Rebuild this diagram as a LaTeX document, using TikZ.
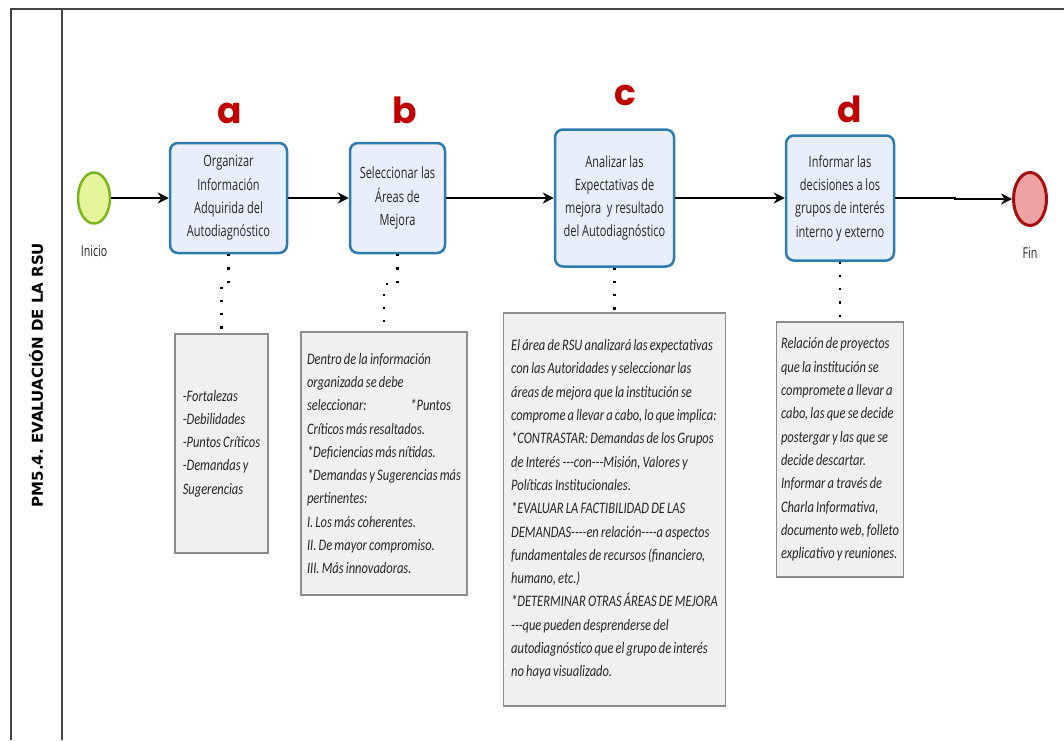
\documentclass[tikz,border=0pt]{standalone}
\usepackage{fontspec}
\setmainfont{Carlito}
\newfontfamily\taskfont[FakeStretch=0.71]{Open Sans}
\newfontfamily\notefont[FakeStretch=0.78,WordSpace=0.78]{Carlito}
\newfontfamily\lanefont{DejaVu Sans}
\newfontfamily\letterfont{Poppins}
\usetikzlibrary{arrows.meta,shapes.geometric}
\frenchspacing
\definecolor{taskfill}{HTML}{E8EEFB}
\definecolor{taskline}{HTML}{2E7BB0}
\definecolor{notefill}{HTML}{F0F0F0}
\definecolor{noteline}{HTML}{8C8C8C}
\definecolor{letterred}{HTML}{C00000}
\definecolor{startfill}{HTML}{E5F59B}
\definecolor{startline}{HTML}{7AB51D}
\definecolor{endfill}{HTML}{EDA3A3}
\definecolor{endline}{HTML}{A50F0F}
\definecolor{laneline}{HTML}{444444}
\tikzset{
  task/.style={draw=taskline, line width=2.5pt, fill=taskfill, rounded corners=8pt,
    align=center, inner sep=2pt, font=\taskfont\fontsize{15.5}{23.3}\selectfont, text=black!85},
  note/.style={draw=noteline, line width=1.5pt, fill=notefill, align=left, inner sep=4pt,
    font=\notefont\itshape\fontsize{16}{23.3}\selectfont, text=black!85},
  letter/.style={text=letterred, font=\letterfont\bfseries\fontsize{36}{36}\selectfont, anchor=base, inner sep=0pt},
  evlabel/.style={font=\taskfont\fontsize{15}{18}\selectfont, text=black!85},
  flow/.style={line width=1.6pt, -{Stealth[length=11pt,width=11pt]}},
  assoc/.style={line width=2.2pt, dash pattern=on 2.2pt off 11pt, black},
  lane/.style={draw=laneline, line width=2pt}
}
\begin{document}
\begin{tikzpicture}[x=1pt,y=-1pt]
\useasboundingbox (0,0) rectangle (1064,740);
% pool and lane
\coordinate (ptl) at (10,9);
\coordinate (ptr) at (1064,9);
\coordinate (pbl) at (11,740);
\coordinate (hdt) at (62,9);
\coordinate (hdb) at (62,740);
\draw[lane] (ptl) -- (ptr);
\draw[lane] (11,9) -- (pbl);
\draw[lane] (hdt) -- (hdb);
\node[rotate=90, font=\lanefont\bfseries\fontsize{15}{16}\selectfont] (lanetitle) at (36,375) {PM5.4. EVALUACIÓN DE LA RSU};

% events
\node[ellipse, draw=startline, line width=2.5pt, fill=startfill, minimum width=32pt, minimum height=51pt, inner sep=0pt] (start) at (94,198) {};
\node[evlabel] (startlbl) at (94,251) {Inicio};
\node[ellipse, draw=endline, line width=3pt, fill=endfill, minimum width=33pt, minimum height=53pt, inner sep=0pt] (end) at (1030,199) {};
\node[evlabel] (endlbl) at (1030,253) {Fin};

% tasks
\node[task, minimum width=117pt, minimum height=110pt] (ta) at (228.5,198) {Organizar\\Información\\Adquirida del\\Autodiagnóstico};
\node[task, minimum width=95pt, minimum height=110pt] (tb) at (397.5,198) {Seleccionar las\\Áreas de\\Mejora};
\node[task, minimum width=119pt, minimum height=137pt] (tc) at (614.5,198) {Analizar las\\Expectativas de\\mejora\ \ y resultado\\del Autodiagnóstico};
\node[task, minimum width=108pt, minimum height=125pt] (td) at (840,198) {Informar las\\decisiones a los\\grupos de interés\\interno y externo};

% letters
\node[letter] (la) at (229.5,123) {a};
\node[letter] (lb) at (404.5,123) {b};
\node[letter] (lc) at (625,105) {c};
\node[letter] (ld) at (850,122) {d};

% flows
\draw[flow] (start) -- (ta);
\draw[flow] (ta) -- (tb);
\draw[flow] (tb) -- (tc);
\draw[flow] (tc) -- (td);
\draw[flow] (td.east) -- ++(60,0) |- (end.west);

% notes
\node[note, minimum width=93pt, minimum height=219pt] (na) at (221.5,443.5)
 {-Fortalezas\\-Debilidades\\-Puntos Críticos\\-Demandas y\\Sugerencias};
\node[note, minimum width=166pt, minimum height=263pt] (nb) at (384,463.5)
 {Dentro de la información\\organizada se debe\\\makebox[144pt][l]{seleccionar:\hfill{*}Puntos}\\Críticos más resaltados.\\{*}Deficiencias más nítidas.\\{*}Demandas y Sugerencias más\\pertinentes:\\I. Los más coherentes.\\II. De mayor compromiso.\\III. Más innovadoras.};
\node[note, minimum width=222pt, minimum height=393pt] (nc) at (614.5,509.5)
 {El área de RSU analizará las expectativas\\con las Autoridades y seleccionar las\\áreas de mejora que la institución se\\comprome a llevar a cabo, lo que implica:\\{*}CONTRASTAR: Demandas de los Grupos\\de Interés ---con---Misión, Valores y\\Políticas Institucionales.\\{*}EVALUAR LA FACTIBILIDAD DE LAS\\DEMANDAS----en relación----a aspectos\\fundamentales de recursos (financiero,\\humano, etc.)\\{*}DETERMINAR OTRAS ÁREAS DE MEJORA\\---que pueden desprenderse del\\autodiagnóstico que el grupo de interés\\no haya visualizado.};
\node[note, minimum width=127pt, minimum height=255pt] (nd) at (840,449.5)
 {Relación de proyectos\\que la institución se\\compromete a llevar a\\cabo, las que se decide\\postergar y las que se\\decide descartar.\\Informar a través de\\Charla Informativa,\\documento web, folleto\\explicativo y reuniones.};

% associations
\draw[assoc] (ta.south) -- ++(0,30) -| (na.north);
\draw[assoc] (tb.south) -- ++(0,30) -| (nb.north);
\draw[assoc] (tc.south) -- (nc.north);
\draw[assoc] (td.south) -- (nd.north);
\end{tikzpicture}
\end{document}
